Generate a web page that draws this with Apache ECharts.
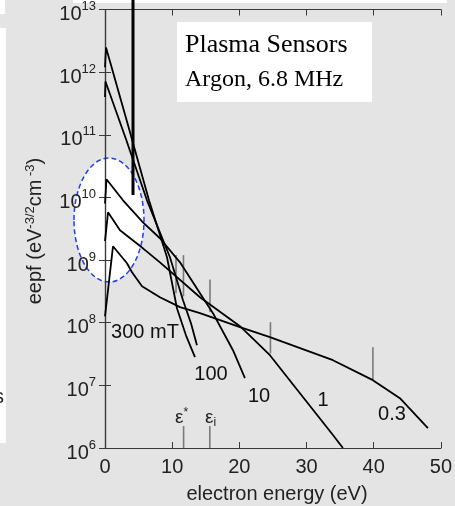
<!DOCTYPE html>
<html>
<head>
<meta charset="utf-8">
<script src="https://cdn.jsdelivr.net/npm/echarts@6/dist/echarts.min.js"></script>
<style>
  html, body { margin: 0; padding: 0; background: #e4e4e4; }
  #chart { width: 455px; height: 506px; }
</style>
</head>
<body>
<div id="chart"></div>
<script>
// Argon ICP at 6.8 MHz: electron energy probability functions at several pressures
const energyTicks = [0, 10, 20, 30, 40, 50];
const eepfMin = 1e6;
const eepfMax = 1e13;

const curveLabels = ['300 mT', '100', '10', '1', '0.3'];

// 300 mTorr
const energy300 = [0, 0.15, 3.42, 6.55, 9.23, 10.71, 12.05, 13.39];
const eepf300   = [1.2e12, 2.48e12, 1.43e11, 9.0e9, 1.11e9, 1.70e8, 6.3e7, 2.82e7];
// 100 mTorr
const energy100 = [0, 0.07, 3.13, 6.25, 9.67, 11.61, 12.8, 13.69];
const eepf100   = [4.0e11, 7.1e11, 8.5e10, 9.0e9, 1.11e9, 2.29e8, 9.8e7, 4.38e7];
// 10 mTorr
const energy10 = [0, 0.22, 2.68, 5.65, 8.18, 11.16, 14.14, 16.07, 19.05, 20.83];
const eepf10   = [8.0e9, 1.95e10, 9.0e9, 4.0e9, 2.23e9, 9.2e8, 2.95e8, 1.42e8, 3.64e7, 1.30e7];
// 1 mTorr
const energy1 = [0, 0.45, 2.23, 5.65, 8.18, 14.14, 20.09, 24.55, 29.02, 33.93, 35.42];
const eepf1   = [2.0e9, 5.78e9, 2.99e9, 1.54e9, 9.2e8, 2.55e8, 8.8e7, 3.03e7, 7.5e6, 1.61e6, 1.0e6];
// 0.3 mTorr
const energy03 = [0, 1.19, 3.27, 4.02, 5.51, 8.18, 11.16, 14.14, 20.09, 24.55, 33.93, 39.88, 43.9, 48.07];
const eepf03   = [1.26e8, 1.66e9, 8.9e8, 6.4e8, 3.82e8, 2.55e8, 1.77e8, 1.42e8, 8.5e7, 5.9e7, 2.52e7, 1.21e7, 6.25e6, 2.07e6];

// short vertical marks standing on each curve
const markEnergy = [10.57, 11.68, 15.63, 24.63, 39.88];
const markLow    = [2.95e8, 2.63e8, 1.48e8, 3.24e7, 1.2e7];
const markHigh   = [1.2e9, 1.2e9, 4.9e8, 1.02e8, 4.07e7];

// excitation (ε*) and ionization (εi) thresholds on the energy axis
const thresholdEnergy = [11.7, 15.6];
const thresholdTop = 2.24e6;

const energies = [energy300, energy100, energy10, energy1, energy03];
const values = [eepf300, eepf100, eepf10, eepf1, eepf03];

const sans = '"Liberation Sans", Arial, sans-serif';
const serif = '"Liberation Serif", "Times New Roman", serif';
const axisColor = '#3a3a3a';

const chart = echarts.init(document.getElementById('chart'), null, { renderer: 'canvas' });

const curveSeries = curveLabels.map((name, k) => ({
  name: name,
  type: 'line',
  xAxisIndex: 0,
  yAxisIndex: 0,
  symbol: 'none',
  smooth: false,
  z: 5,
  lineStyle: { color: '#000', width: 1.8 },
  data: energies[k].map((e, i) => [e, values[k][i]])
}));

function verticalSegments(data, color, width) {
  return {
    type: 'custom',
    xAxisIndex: 0,
    yAxisIndex: 0,
    z: 4,
    silent: true,
    data: data,
    renderItem: function (params, api) {
      const p1 = api.coord([api.value(0), api.value(1)]);
      const p2 = api.coord([api.value(0), api.value(2)]);
      return {
        type: 'line',
        shape: { x1: p1[0], y1: p1[1], x2: p2[0], y2: p2[1] },
        style: { stroke: color, lineWidth: width }
      };
    }
  };
}

const logLabel = v => '{b|10}{s|' + Math.round(Math.log10(v)) + '}';

const option = {
  backgroundColor: '#e4e4e4',
  animation: false,
  grid: { left: 105, right: 14, top: 9, bottom: 58, containLabel: false },
  xAxis: [
    {
      type: 'value', min: energyTicks[0], max: energyTicks[energyTicks.length - 1], interval: 10,
      position: 'bottom', z: 3,
      axisLine: { show: true, lineStyle: { color: axisColor, width: 1.2 } },
      axisTick: { show: true, inside: true, length: 6, lineStyle: { color: axisColor } },
      axisLabel: { margin: 9, fontSize: 20, color: '#222', fontFamily: sans },
      splitLine: { show: false }
    },
    {
      type: 'value', min: energyTicks[0], max: energyTicks[energyTicks.length - 1], interval: 10,
      position: 'top', z: 3,
      axisLine: { show: true, lineStyle: { color: axisColor, width: 1.2 } },
      axisTick: { show: true, inside: true, length: 6, lineStyle: { color: axisColor } },
      axisLabel: { show: false },
      splitLine: { show: false }
    }
  ],
  yAxis: [
    {
      type: 'log', logBase: 10, min: eepfMin, max: eepfMax,
      position: 'left', z: 3,
      axisLine: { show: true, lineStyle: { color: axisColor, width: 1.2 } },
      axisTick: { show: true, inside: true, length: 6, lineStyle: { color: axisColor } },
      axisLabel: {
        margin: 9, formatter: logLabel, color: '#222',
        rich: {
          b: { fontSize: 20, fontFamily: sans, color: '#222', padding: [10, 0, 0, 0] },
          s: { fontSize: 13, fontFamily: sans, color: '#222', padding: [0, 0, 6, 0] }
        }
      },
      splitLine: { show: false }
    },
    {
      type: 'log', logBase: 10, min: eepfMin, max: eepfMax,
      position: 'right', z: 3,
      axisLine: { show: true, lineStyle: { color: axisColor, width: 1.2 } },
      axisTick: { show: true, inside: true, length: 6, lineStyle: { color: axisColor } },
      axisLabel: { show: false },
      splitLine: { show: false }
    }
  ],
  series: [
    ...curveSeries,
    verticalSegments(markEnergy.map((e, i) => [e, markLow[i], markHigh[i]]), '#7a7a7a', 1.6),
    verticalSegments(thresholdEnergy.map(e => [e, eepfMin, thresholdTop]), '#7a7a7a', 1.6)
  ],
  graphic: [
    // paper edges around the figure
    { type: 'rect', z: -5, shape: { x: 0, y: 0, width: 5, height: 14 }, style: { fill: '#fff' } },
    { type: 'rect', z: -5, shape: { x: 73, y: 0, width: 374, height: 3 }, style: { fill: '#fff' } },
    { type: 'rect', z: -5, shape: { x: 0, y: 28, width: 6, height: 415 }, style: { fill: '#fff' } },
    { type: 'text', z: -4, x: -6, y: 397, style: { text: 's', font: '20px ' + sans, fill: '#222', verticalAlign: 'middle' } },
    // highlighted low-energy peaks
    { type: 'ellipse', z: -3, shape: { cx: 109, cy: 220, rx: 35, ry: 62 },
      style: { fill: '#fff', stroke: '#1f3ff0', lineWidth: 1.5, lineDash: [5, 3] } },
    // pointer
    { type: 'line', z: 10, shape: { x1: 133, y1: 0, x2: 133, y2: 195 }, style: { stroke: '#000', lineWidth: 3 } },
    // title box
    { type: 'rect', z: 10, shape: { x: 177, y: 22, width: 195, height: 80 }, style: { fill: '#fff' } },
    { type: 'text', z: 11, x: 185, y: 45, style: { text: 'Plasma Sensors', font: '26px ' + serif, fill: '#000', verticalAlign: 'middle' } },
    { type: 'text', z: 11, x: 185, y: 80, style: { text: 'Argon, 6.8 MHz', font: '24px ' + serif, fill: '#000', verticalAlign: 'middle' } },
    // curve labels
    { type: 'text', z: 11, x: 145, y: 332, style: { text: curveLabels[0], font: '20px ' + sans, fill: '#111', align: 'center', verticalAlign: 'middle' } },
    { type: 'text', z: 11, x: 211, y: 374, style: { text: curveLabels[1], font: '20px ' + sans, fill: '#111', align: 'center', verticalAlign: 'middle' } },
    { type: 'text', z: 11, x: 259, y: 396, style: { text: curveLabels[2], font: '20px ' + sans, fill: '#111', align: 'center', verticalAlign: 'middle' } },
    { type: 'text', z: 11, x: 323, y: 400, style: { text: curveLabels[3], font: '20px ' + sans, fill: '#111', align: 'center', verticalAlign: 'middle' } },
    { type: 'text', z: 11, x: 392, y: 414, style: { text: curveLabels[4], font: '20px ' + sans, fill: '#111', align: 'center', verticalAlign: 'middle' } },
    // threshold labels
    { type: 'text', z: 11, x: 175, y: 418, style: {
        text: '{e|ε}{u|*}', verticalAlign: 'middle',
        rich: { e: { fontSize: 19, fontFamily: sans, fill: '#222' }, u: { fontSize: 12, fontFamily: sans, fill: '#222', padding: [0, 0, 10, 0] } } } },
    { type: 'text', z: 11, x: 205, y: 418, style: {
        text: '{e|ε}{d|i}', verticalAlign: 'middle',
        rich: { e: { fontSize: 19, fontFamily: sans, fill: '#222' }, d: { fontSize: 12, fontFamily: sans, fill: '#222', padding: [10, 0, 0, 0] } } } },
    // axis titles
    { type: 'text', z: 11, x: 277, y: 494, style: { text: 'electron energy (eV)', font: '20px ' + sans, fill: '#222', align: 'center', verticalAlign: 'middle' } },
    { type: 'text', z: 11, x: 35, y: 231, rotation: Math.PI / 2, style: {
        text: '{a|eepf (eV}{s|-3/2}{a|cm}{s| -3}{a|)}', align: 'center', verticalAlign: 'middle',
        rich: { a: { fontSize: 20, fontFamily: sans, fill: '#222' }, s: { fontSize: 13, fontFamily: sans, fill: '#222', padding: [0, 0, 9, 0] } } } }
  ]
};

chart.setOption(option);
</script>
</body>
</html>
